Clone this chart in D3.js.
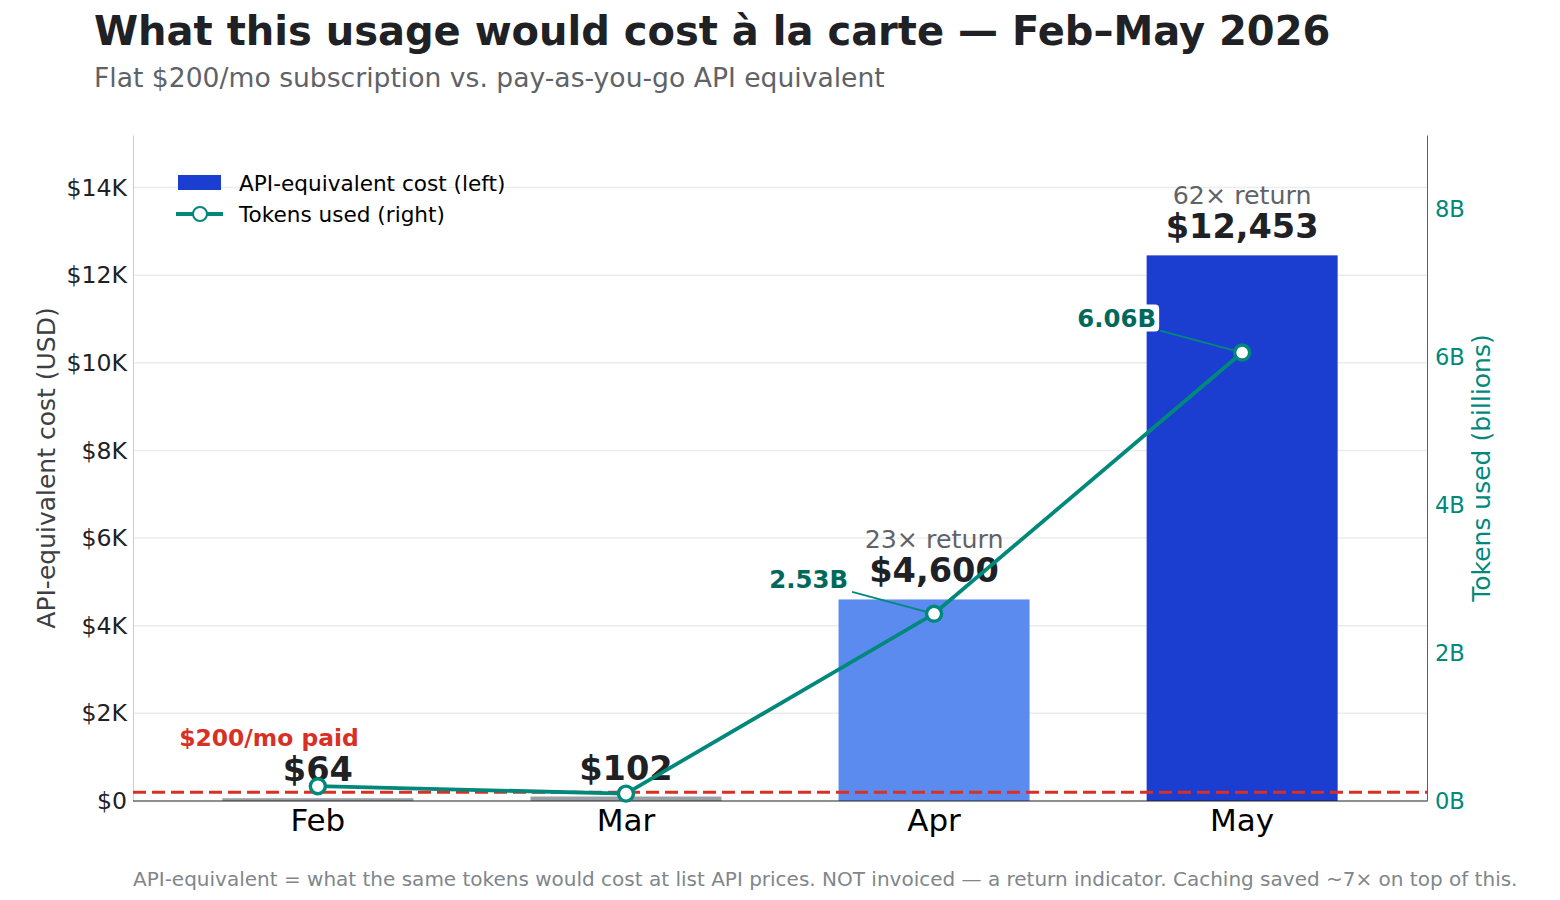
<!DOCTYPE html>
<html>
<head>
<meta charset="utf-8">
<script src="https://cdn.jsdelivr.net/npm/d3@7"></script>
<style>
  body { margin: 0; background: #fff; }
  svg text { font-family: "DejaVu Sans", sans-serif; }
</style>
</head>
<body>
<div id="viz"></div>
<script>
var width = 1560
var height = 900

// data
var months = ["Feb", "Mar", "Apr", "May"]
var costUSD = [64, 102, 4600, 12453]
var tokensB = [0.20, 0.10, 2.53, 6.06]
var barColors = ["#9aa0a6", "#9aa0a6", "#5b8bee", "#1b3ed0"]
var subscription = 200
var costTicks = [0, 2000, 4000, 6000, 8000, 10000, 12000, 14000]
var tokenTicks = [0, 2, 4, 6, 8]
var annotated = [2, 3]   // which months get a token label

var teal = "#00897b"
var tealDark = "#00695c"
var red = "#d93025"

var plot = {left: 133, right: 1427, top: 135, bottom: 801}

var svg = d3.select("#viz")
    .append("svg")
    .attr("width", width)
    .attr("height", height)

var x = d3.scaleLinear().domain([-0.6, 3.6]).range([plot.left, plot.right])
var yL = d3.scaleLinear().domain([0, 15200]).range([plot.bottom, plot.top])
var yR = d3.scaleLinear().domain([0, 9.0]).range([plot.bottom, plot.top])
var barW = x(0.62) - x(0)

// titles
svg.append("text")
    .attr("x", 94).attr("y", 45)
    .attr("font-size", 40).attr("font-weight", "bold")
    .attr("fill", "#202124")
    .text("What this usage would cost à la carte — Feb–May 2026")
svg.append("text")
    .attr("x", 94).attr("y", 87)
    .attr("font-size", 26.6)
    .attr("fill", "#5f6368")
    .text("Flat $200/mo subscription vs. pay-as-you-go API equivalent")

// grid
svg.append("g").selectAll("line")
    .data(costTicks.slice(1))
    .join("line")
    .attr("x1", plot.left).attr("x2", plot.right)
    .attr("y1", d => yL(d)).attr("y2", d => yL(d))
    .attr("stroke", "#ececec").attr("stroke-width", 1.5)

// left axis
var axL = svg.append("g")
    .attr("transform", "translate(" + plot.left + ",0)")
    .call(d3.axisLeft(yL).tickValues(costTicks).tickSize(0).tickPadding(6)
        .tickFormat(d => d == 0 ? "$0" : "$" + (d / 1000) + "K"))
axL.select(".domain").attr("stroke", "#cccccc")
axL.selectAll("text").attr("font-size", 23.6).attr("fill", "#202124")
    .attr("font-family", "DejaVu Sans")

// right axis
var axR = svg.append("g")
    .attr("transform", "translate(" + plot.right + ",0)")
    .call(d3.axisRight(yR).tickValues(tokenTicks).tickSize(0).tickPadding(8)
        .tickFormat(d => d + "B"))
axR.select(".domain").attr("stroke", teal)
axR.selectAll("text").attr("font-size", 22.6).attr("fill", teal)
    .attr("font-family", "DejaVu Sans")

// axis titles
svg.append("text")
    .attr("transform", "translate(55," + ((plot.top + plot.bottom) / 2) + ") rotate(-90)")
    .attr("text-anchor", "middle")
    .attr("font-size", 25).attr("fill", "#3c4043")
    .text("API-equivalent cost (USD)")
svg.append("text")
    .attr("transform", "translate(1490," + ((plot.top + plot.bottom) / 2) + ") rotate(-90)")
    .attr("text-anchor", "middle")
    .attr("font-size", 25).attr("fill", teal)
    .text("Tokens used (billions)")

// bars
svg.append("g").selectAll("rect")
    .data(costUSD)
    .join("rect")
    .attr("x", (d, i) => x(i) - barW / 2)
    .attr("y", d => yL(d))
    .attr("width", barW)
    .attr("height", d => yL(0) - yL(d))
    .attr("fill", (d, i) => barColors[i])

// bottom spine
svg.append("line")
    .attr("x1", plot.left).attr("x2", plot.right)
    .attr("y1", plot.bottom).attr("y2", plot.bottom)
    .attr("stroke", "#202124").attr("stroke-width", 1.2)

// x tick labels
svg.append("g").selectAll("text")
    .data(months)
    .join("text")
    .attr("x", (d, i) => x(i))
    .attr("y", 831)
    .attr("text-anchor", "middle")
    .attr("font-size", 31).attr("fill", "#000")
    .text(d => d)

// subscription line
svg.append("line")
    .attr("x1", plot.left).attr("x2", plot.right)
    .attr("y1", yL(subscription)).attr("y2", yL(subscription))
    .attr("stroke", red).attr("stroke-width", 3.2)
    .attr("stroke-dasharray", "13,6")
svg.append("text")
    .attr("x", x(-0.45)).attr("y", 746)
    .attr("font-size", 23.4).attr("font-weight", "bold")
    .attr("fill", red)
    .text("$" + subscription + "/mo paid")

// value labels
svg.append("g").selectAll("text")
    .data(costUSD)
    .join("text")
    .attr("x", (d, i) => x(i))
    .attr("y", d => yL(d) - 17)
    .attr("text-anchor", "middle")
    .attr("font-size", 33.6).attr("font-weight", "bold")
    .attr("fill", "#202124")
    .text(d => "$" + d3.format(",")(d))

svg.append("g").selectAll("text")
    .data(costUSD)
    .join("text")
    .filter(d => d > subscription)
    .attr("x", (d, i) => x(costUSD.indexOf(d)))
    .attr("y", d => yL(d) - 51)
    .attr("text-anchor", "middle")
    .attr("font-size", 25.3)
    .attr("fill", "#5f6368")
    .text(d => Math.round(d / subscription) + "× return")

// tokens line
var line = d3.line()
    .x((d, i) => x(i))
    .y(d => yR(d))
svg.append("path")
    .datum(tokensB)
    .attr("d", line)
    .attr("fill", "none")
    .attr("stroke", teal)
    .attr("stroke-width", 3.8)

// annotations
annotated.forEach(function (i) {
    var px = x(i), py = yR(tokensB[i])
    svg.append("line")
        .attr("x1", px - 82).attr("y1", py - 22)
        .attr("x2", px).attr("y2", py)
        .attr("stroke", teal).attr("stroke-width", 1.8)
    var g = svg.append("g")
    var t = g.append("text")
        .attr("x", px - 86).attr("y", py - 26)
        .attr("text-anchor", "end")
        .attr("font-size", 24.4).attr("font-weight", "bold")
        .attr("fill", tealDark)
        .text(tokensB[i].toFixed(2) + "B")
    var bb = t.node().getBBox()
    g.insert("rect", "text")
        .attr("x", bb.x - 3).attr("y", bb.y + 1)
        .attr("width", bb.width + 6).attr("height", bb.height - 2)
        .attr("rx", 4)
        .attr("fill", "white")
})

svg.append("g").selectAll("circle")
    .data(tokensB)
    .join("circle")
    .attr("cx", (d, i) => x(i))
    .attr("cy", d => yR(d))
    .attr("r", 7.5)
    .attr("fill", "white")
    .attr("stroke", teal)
    .attr("stroke-width", 3.4)

// legend
var lg = svg.append("g")
lg.append("rect")
    .attr("x", 178).attr("y", 175).attr("width", 43).attr("height", 15)
    .attr("fill", barColors[3])
lg.append("text")
    .attr("x", 239).attr("y", 190.5)
    .attr("font-size", 21.6).attr("fill", "#000")
    .text("API-equivalent cost (left)")
lg.append("line")
    .attr("x1", 176).attr("x2", 223).attr("y1", 214).attr("y2", 214)
    .attr("stroke", teal).attr("stroke-width", 3.8)
lg.append("circle")
    .attr("cx", 200).attr("cy", 214).attr("r", 7)
    .attr("fill", "white").attr("stroke", teal).attr("stroke-width", 2)
lg.append("text")
    .attr("x", 239).attr("y", 221.5)
    .attr("font-size", 21.6).attr("fill", "#000")
    .text("Tokens used (right)")

// footnote
svg.append("text")
    .attr("x", 133).attr("y", 886)
    .attr("font-size", 20).attr("fill", "#80868b")
    .text("API-equivalent = what the same tokens would cost at list API prices. NOT invoiced — a return indicator. Caching saved ~7× on top of this.")
</script>
</body>
</html>
